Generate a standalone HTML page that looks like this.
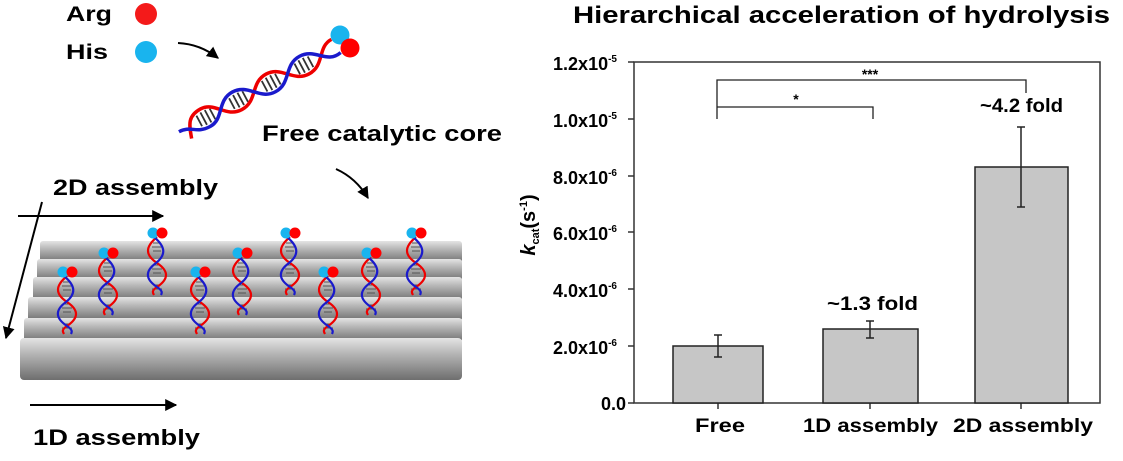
<!DOCTYPE html>
<html><head><meta charset="utf-8"><style>
body{margin:0;background:#fff;}
svg{display:block;font-family:"Liberation Sans",Arial,sans-serif;}
</style></head><body>
<svg width="1123" height="461" viewBox="0 0 1123 461" xmlns="http://www.w3.org/2000/svg">
<defs>
<linearGradient id="cyl" x1="0" y1="0" x2="0" y2="1">
<stop offset="0" stop-color="#e4e4e4"/><stop offset="0.35" stop-color="#b8b8b8"/><stop offset="1" stop-color="#6e6e6e"/>
</linearGradient>
<marker id="ah" viewBox="0 0 10 10" refX="9" refY="5" markerWidth="6" markerHeight="6" orient="auto-start-reverse">
<path d="M0,0 L10,5 L0,10 z" fill="#000"/></marker>
<g id="sh">
<g stroke="#555" stroke-width="1">
<line x1="-4" y1="14" x2="4" y2="14"/><line x1="-5" y1="18" x2="5" y2="18"/><line x1="-4" y1="22" x2="4" y2="22"/>
<line x1="-4" y1="36" x2="4" y2="36"/><line x1="-5" y1="40" x2="5" y2="40"/><line x1="-4" y1="44" x2="4" y2="44"/>
<line x1="-4" y1="56" x2="4" y2="56"/><line x1="-5" y1="60" x2="5" y2="60"/>
</g>
<path d="M0,8 C-12,18 -12,26 0,34 C12,42 12,50 0,58 C-6,62 -4,64 -3,66" stroke="#e00" stroke-width="2.2" fill="none"/>
<path d="M-3,8 C9,18 9,26 -1,34 C-12,42 -12,50 0,58 C6,62 5,64 4,66" stroke="#1a1acc" stroke-width="2.2" fill="none"/>
<circle cx="-4" cy="4" r="5.5" fill="#19b4ee"/><circle cx="5" cy="4" r="5.5" fill="#f00"/>
</g>
</defs>

<text x="66" y="21" font-size="21" font-weight="bold" textLength="46" lengthAdjust="spacingAndGlyphs">Arg</text>
<circle cx="146" cy="14" r="11" fill="#f41a1a"/>
<text x="66" y="59" font-size="21" font-weight="bold" textLength="42" lengthAdjust="spacingAndGlyphs">His</text>
<circle cx="146" cy="52" r="11" fill="#19b4ee"/>
<path d="M178,43 Q200,44 218,58" stroke="#000" stroke-width="2" fill="none" marker-end="url(#ah)"/>

<g transform="translate(186,128) rotate(-28)">
<g stroke="#333" stroke-width="1.8">
<line x1="15" y1="-6" x2="15" y2="6"/><line x1="20" y1="-7" x2="20" y2="7"/><line x1="25" y1="-7" x2="25" y2="7"/><line x1="30" y1="-6" x2="30" y2="6"/>
<line x1="52" y1="-6" x2="52" y2="6"/><line x1="57" y1="-7" x2="57" y2="7"/><line x1="62" y1="-7" x2="62" y2="7"/><line x1="67" y1="-6" x2="67" y2="6"/>
<line x1="89" y1="-6" x2="89" y2="6"/><line x1="94" y1="-7" x2="94" y2="7"/><line x1="99" y1="-7" x2="99" y2="7"/><line x1="104" y1="-6" x2="104" y2="6"/>
<line x1="126" y1="-6" x2="126" y2="6"/><line x1="131" y1="-7" x2="131" y2="7"/><line x1="136" y1="-7" x2="136" y2="7"/><line x1="141" y1="-6" x2="141" y2="6"/>
</g>
<path d="M0,12 C4,0 6,-10 22,-10 C38,-10 40,10 58,10 C76,10 78,-10 96,-10 C114,-10 116,10 134,10 C152,10 154,-10 170,-10" stroke="#e00" stroke-width="3.5" fill="none"/>
<path d="M-8,0 C6,0 6,10 22,10 C38,10 40,-10 58,-10 C76,-10 78,10 96,10 C114,10 116,-10 134,-10 C152,-10 154,10 172,6" stroke="#1a1acc" stroke-width="3.5" fill="none"/>
</g>
<circle cx="340" cy="35" r="9.5" fill="#19b4ee"/><circle cx="350" cy="48" r="9.5" fill="#f00"/>
<text x="262" y="141" font-size="22" font-weight="bold" textLength="240" lengthAdjust="spacingAndGlyphs">Free catalytic core</text>
<path d="M336,169 Q356,178 368,198" stroke="#000" stroke-width="2" fill="none" marker-end="url(#ah)"/>

<text x="53" y="195" font-size="22" font-weight="bold" textLength="165" lengthAdjust="spacingAndGlyphs">2D assembly</text>
<line x1="18" y1="216" x2="163" y2="216" stroke="#000" stroke-width="2" marker-end="url(#ah)"/>
<line x1="42" y1="202" x2="6" y2="338" stroke="#000" stroke-width="2" marker-end="url(#ah)"/>

<rect x="40" y="241" width="422" height="22" fill="url(#cyl)" rx="3"/>
<rect x="37" y="259" width="425" height="22" fill="url(#cyl)" rx="3"/>
<rect x="33" y="277" width="429" height="24" fill="url(#cyl)" rx="3"/>
<rect x="28" y="297" width="434" height="24" fill="url(#cyl)" rx="3"/>
<rect x="24" y="318" width="438" height="24" fill="url(#cyl)" rx="3"/>
<rect x="20" y="338" width="442" height="42" fill="url(#cyl)" rx="4"/>

<use href="#sh" x="67" y="268"/>
<use href="#sh" x="108" y="249"/>
<use href="#sh" x="157" y="229"/>
<use href="#sh" x="200" y="268"/>
<use href="#sh" x="242" y="249"/>
<use href="#sh" x="290" y="229"/>
<use href="#sh" x="328" y="268"/>
<use href="#sh" x="371" y="249"/>
<use href="#sh" x="416" y="229"/>

<line x1="30" y1="405" x2="176" y2="405" stroke="#000" stroke-width="2" marker-end="url(#ah)"/>
<text x="33" y="445" font-size="22" font-weight="bold" textLength="167" lengthAdjust="spacingAndGlyphs">1D assembly</text>

<text x="573" y="23" font-size="24" font-weight="bold" textLength="537" lengthAdjust="spacingAndGlyphs">Hierarchical acceleration of hydrolysis</text>
<rect x="634" y="62" width="466" height="341" fill="none" stroke="#333" stroke-width="1.5"/>
<g stroke="#333" stroke-width="1.5">
<line x1="628" y1="62" x2="634" y2="62"/><line x1="628" y1="119" x2="634" y2="119"/><line x1="628" y1="176" x2="634" y2="176"/>
<line x1="628" y1="232" x2="634" y2="232"/><line x1="628" y1="289" x2="634" y2="289"/><line x1="628" y1="346" x2="634" y2="346"/><line x1="628" y1="403" x2="634" y2="403"/>
<line x1="718" y1="403" x2="718" y2="409"/><line x1="870" y1="403" x2="870" y2="409"/><line x1="1021" y1="403" x2="1021" y2="409"/>
</g>
<g font-size="18" font-weight="bold" text-anchor="end">
<text x="617" y="70">1.2x10<tspan font-size="10" dy="-8">-5</tspan></text>
<text x="617" y="127">1.0x10<tspan font-size="10" dy="-8">-5</tspan></text>
<text x="617" y="184">8.0x10<tspan font-size="10" dy="-8">-6</tspan></text>
<text x="617" y="240">6.0x10<tspan font-size="10" dy="-8">-6</tspan></text>
<text x="617" y="297">4.0x10<tspan font-size="10" dy="-8">-6</tspan></text>
<text x="617" y="354">2.0x10<tspan font-size="10" dy="-8">-6</tspan></text>
<text x="626" y="410">0.0</text>
</g>
<text transform="translate(535,225) rotate(-90)" font-size="20" font-weight="bold" text-anchor="middle"><tspan font-style="italic">k</tspan><tspan font-size="11" dy="4">cat</tspan><tspan dy="-4">(s</tspan><tspan font-size="11" dy="-8">-1</tspan><tspan dy="8">)</tspan></text>

<g fill="#c6c6c6" stroke="#222" stroke-width="1.5">
<rect x="673" y="346" width="90" height="57"/>
<rect x="823" y="329" width="95" height="74"/>
<rect x="975" y="167" width="93" height="236"/>
</g>
<g stroke="#222" stroke-width="1.5">
<line x1="718" y1="335" x2="718" y2="357"/><line x1="714" y1="335" x2="722" y2="335"/><line x1="714" y1="357" x2="722" y2="357"/>
<line x1="870" y1="321" x2="870" y2="338"/><line x1="866" y1="321" x2="874" y2="321"/><line x1="866" y1="338" x2="874" y2="338"/>
<line x1="1021" y1="127" x2="1021" y2="207"/><line x1="1017" y1="127" x2="1025" y2="127"/><line x1="1017" y1="207" x2="1025" y2="207"/>
</g>
<g stroke="#222" stroke-width="1.3" fill="none">
<polyline points="717,119 717,80 1026,80 1026,93"/>
<polyline points="717,107 873,107 873,119"/>
</g>
<text x="870" y="79" font-size="14" font-weight="bold" text-anchor="middle">***</text>
<text x="796" y="104" font-size="14" font-weight="bold" text-anchor="middle">*</text>
<text x="980" y="112" font-size="19" font-weight="bold" textLength="83" lengthAdjust="spacingAndGlyphs">~4.2 fold</text>
<text x="827" y="310" font-size="19" font-weight="bold" textLength="91" lengthAdjust="spacingAndGlyphs">~1.3 fold</text>
<g font-size="19" font-weight="bold">
<text x="695" y="432" textLength="50" lengthAdjust="spacingAndGlyphs">Free</text>
<text x="803" y="432" textLength="135" lengthAdjust="spacingAndGlyphs">1D assembly</text>
<text x="953" y="432" textLength="140" lengthAdjust="spacingAndGlyphs">2D assembly</text>
</g>
</svg>
</body></html>
